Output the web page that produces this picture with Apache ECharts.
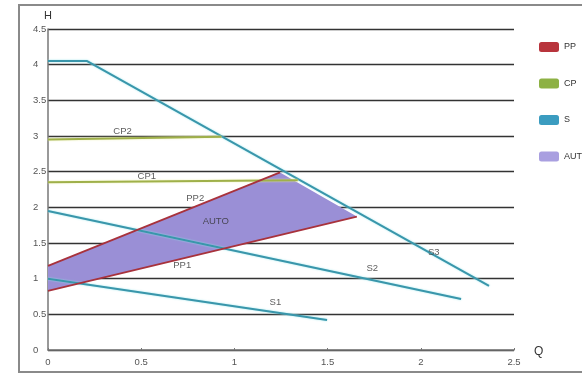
<!DOCTYPE html>
<html><head><meta charset="utf-8">
<script src="https://cdn.jsdelivr.net/npm/echarts@6/dist/echarts.min.js"></script>
<style>html,body{margin:0;padding:0;background:#fff}#c{width:582px;height:376px}</style>
</head><body><div id="c"></div>
<script>
// data
var xTicks = [0, 0.5, 1, 1.5, 2, 2.5];
var yTicks = [0, 0.5, 1, 1.5, 2, 2.5, 3, 3.5, 4, 4.5];
var legendNames = ['PP', 'CP', 'S', 'AUTO'];
var S1 = [[0, 1.0], [1.497, 0.42]];
var S2 = [[0, 1.95], [2.216, 0.715]];
var S3 = [[0, 4.05], [0.21, 4.05], [2.366, 0.90]];
var CP1 = [[0, 2.35], [1.34, 2.38]];
var CP2 = [[0, 2.95], [0.93, 2.99]];
var PP1 = [[0, 0.83], [1.657, 1.87]];
var PP2 = [[0, 1.18], [1.245, 2.49]];
var AUTO = [[0, 1.18], [1.245, 2.49], [1.657, 1.87], [0, 0.83]];
var labelNames = ['CP2', 'CP1', 'PP2', 'AUTO', 'PP1', 'S1', 'S2', 'S3'];
var labelPos = [[0.40, 3.06], [0.53, 2.43], [0.79, 2.12], [0.90, 1.80], [0.72, 1.18], [1.22, 0.67], [1.74, 1.15], [2.07, 1.37]];

var FONT = 'Liberation Sans, Arial, sans-serif';
var cS = '#3a96ab', cCP = '#9fb04a', cPP = '#a8323c';
function lineSeries(name, data, color, legendColor) {
  return {
    type: 'line', name: name, data: data, symbol: 'none', z: 3,
    itemStyle: { color: legendColor },
    lineStyle: { color: color, width: 2, shadowColor: 'rgba(150,230,235,0.9)', shadowBlur: 2 },
    emphasis: { disabled: true }, silent: true
  };
}
var chart = echarts.init(document.getElementById('c'));
chart.setOption({
  animation: false,
  textStyle: { fontFamily: FONT },
  grid: { left: 48, right: 68, top: 29, bottom: 26 },
  legend: {
    data: legendNames, orient: 'vertical', left: 534, top: 37,
    icon: 'roundRect', itemWidth: 20, itemHeight: 10, itemGap: 26.5,
    textStyle: { fontSize: 9, color: '#333', fontFamily: FONT },
    selectedMode: false
  },
  xAxis: {
    type: 'value', min: 0, max: 2.5, interval: 0.5,
    name: 'Q', nameLocation: 'end', nameGap: 20,
    nameTextStyle: { fontSize: 12, color: '#333', verticalAlign: 'bottom', padding: [0, 0, -8, 0] },
    axisLine: { show: true, lineStyle: { color: '#777', width: 1.5 } },
    axisTick: { show: true, inside: true, length: 2, lineStyle: { color: '#777' } },
    axisLabel: { fontSize: 9.5, color: '#555', margin: 7, formatter: function (v) { return xTicks.indexOf(v) >= 0 ? String(v) : ''; } },
    splitLine: { show: false }
  },
  yAxis: {
    type: 'value', min: 0, max: 4.5, interval: 0.5,
    name: 'H', nameLocation: 'end', nameGap: 8,
    nameTextStyle: { fontSize: 11, color: '#333', align: 'center', padding: [0, 0, 0, 0] },
    axisLine: { show: true, lineStyle: { color: '#777', width: 1.5 } },
    axisTick: { show: false },
    axisLabel: { fontSize: 9.5, color: '#555', margin: 15, align: 'left', formatter: function (v) { return yTicks.indexOf(v) >= 0 ? String(v) : ''; } },
    splitLine: { show: true, lineStyle: { color: '#333', width: 1.3 } }
  },
  graphic: [{
    type: 'rect', shape: { x: 19, y: 5, width: 620, height: 367 },
    style: { fill: 'none', stroke: '#8a8a8a', lineWidth: 2 }, silent: true, z: 100
  }],
  series: [
    {
      type: 'custom', name: 'AUTO', z: 2, silent: true,
      itemStyle: { color: '#a99fe0' },
      data: [0],
      renderItem: function (params, api) {
        var pts = AUTO.map(function (p) { return api.coord(p); });
        return { type: 'polygon', shape: { points: pts }, style: { fill: '#9a8fd6', stroke: 'none' } };
      }
    },
    lineSeries('S', S1, cS, '#3b9cc0'),
    lineSeries('S', S2, cS, '#3b9cc0'),
    lineSeries('S', S3, cS, '#3b9cc0'),
    {
      type: 'line', name: 'CP', data: CP1, symbol: 'none', z: 3, silent: true,
      itemStyle: { color: '#8db144' },
      lineStyle: { color: cCP, width: 2, shadowColor: 'rgba(235,240,170,0.9)', shadowBlur: 2 }
    },
    {
      type: 'line', name: 'CP', data: CP2, symbol: 'none', z: 3, silent: true,
      itemStyle: { color: '#8db144' },
      lineStyle: { color: cCP, width: 2, shadowColor: 'rgba(235,240,170,0.9)', shadowBlur: 2 }
    },
    {
      type: 'line', name: 'PP', data: PP1, symbol: 'none', z: 4, silent: true,
      itemStyle: { color: '#b8343c' },
      lineStyle: { color: cPP, width: 1.8 }
    },
    {
      type: 'line', name: 'PP', data: PP2, symbol: 'none', z: 4, silent: true,
      itemStyle: { color: '#b8343c' },
      lineStyle: { color: cPP, width: 1.8 }
    },
    {
      type: 'scatter', name: 'labels', symbolSize: 0, z: 5, silent: true,
      data: labelPos.map(function (p, i) { return { value: p, name: labelNames[i] }; }),
      label: { show: true, position: 'inside', formatter: '{b}', fontSize: 9.5, color: '#333', fontFamily: FONT }
    }
  ]
});
</script>
</body></html>
